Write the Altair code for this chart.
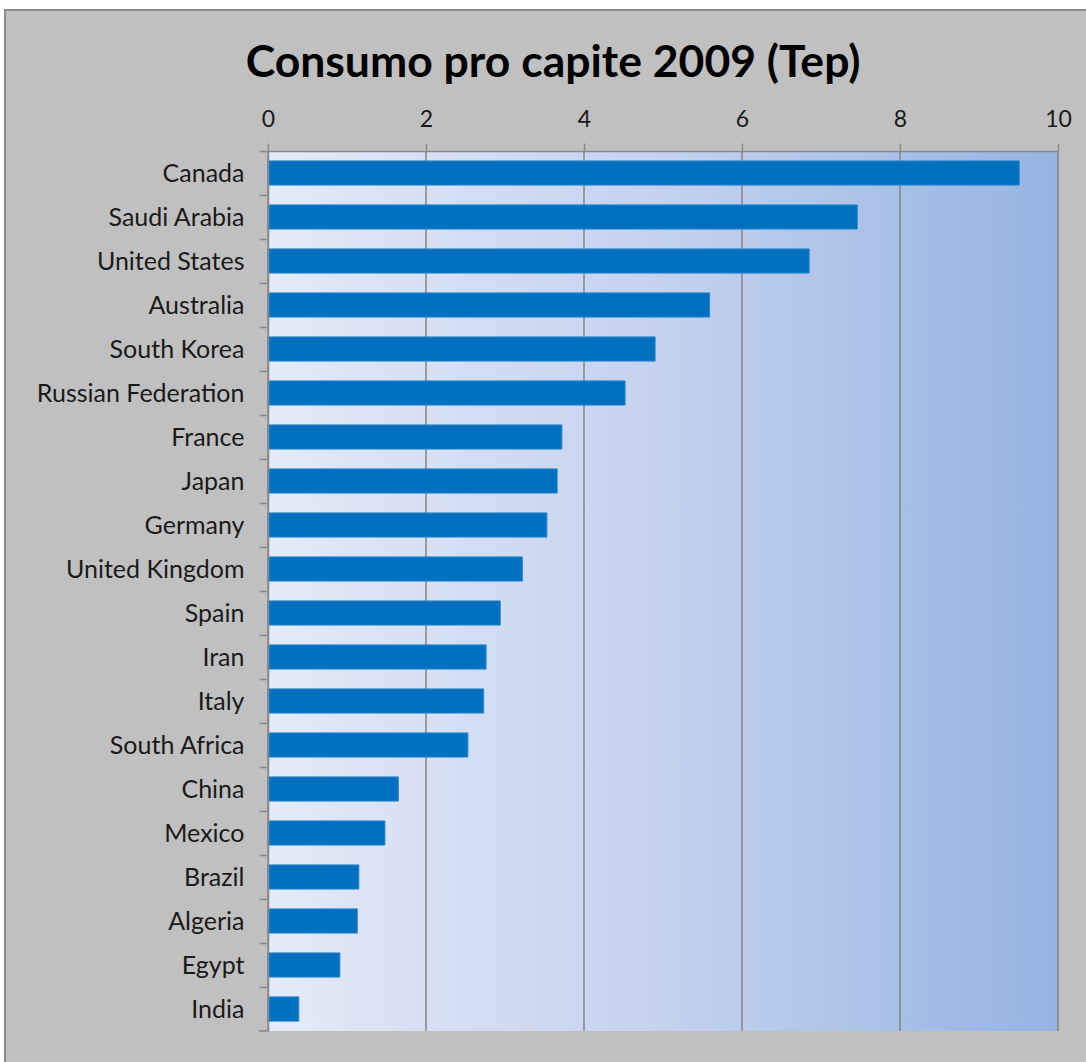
import altair as alt
import pandas as pd

title_text = "Consumo pro capite 2009 (Tep)"
countries = ["Canada", "Saudi Arabia", "United States", "Australia", "South Korea",
             "Russian Federation", "France", "Japan", "Germany", "United Kingdom",
             "Spain", "Iran", "Italy", "South Africa", "China", "Mexico", "Brazil",
             "Algeria", "Egypt", "India"]
values = [9.51, 7.46, 6.85, 5.59, 4.90, 4.52, 3.72, 3.66, 3.53, 3.22,
          2.94, 2.76, 2.73, 2.53, 1.65, 1.48, 1.15, 1.13, 0.91, 0.39]
ticks = [0, 2, 4, 6, 8, 10]

W, H = 790, 880
STEP = H / len(countries)
FONT = "Lato"

df = pd.DataFrame({"country": countries, "value": values})
tick_df = pd.DataFrame({"t": ticks})
title_df = pd.DataFrame({"label": [title_text]})

x_scale = alt.Scale(domain=[0, 10], nice=False, zero=True)

frame = alt.Chart(title_df).mark_rect(
    fill="#c0c0c0", stroke="#8a8a8a", strokeWidth=2
).encode(
    x=alt.value(-263), x2=alt.value(W + 40),
    y=alt.value(-141), y2=alt.value(H + 40)
)

grad = alt.Chart(title_df).mark_rect(
    color=alt.LinearGradient(
        gradient="linear", x1=0, x2=1, y1=0, y2=0,
        stops=[alt.GradientStop(color="#e4eaf7", offset=0),
               alt.GradientStop(color="#c4d2ee", offset=0.5),
               alt.GradientStop(color="#96b3e2", offset=1)]
    )
).encode(
    x=alt.value(0), x2=alt.value(W), y=alt.value(0), y2=alt.value(H)
)

grid = alt.Chart(tick_df).mark_rule(color="#868686", strokeWidth=1.5).encode(
    x=alt.X("t:Q", scale=x_scale),
    y=alt.value(0), y2=alt.value(H)
)

bottom_tick = alt.Chart(title_df).mark_rule(color="#8a8a8a", strokeWidth=1.5).encode(
    x=alt.value(-9), x2=alt.value(0), y=alt.value(H)
)

bars = alt.Chart(df).mark_bar(color="#0070c0", stroke="#2a86cc", strokeWidth=1).encode(
    x=alt.X("value:Q", scale=x_scale,
            axis=alt.Axis(orient="top", values=ticks, title=None, grid=False, format="d",
                          domainColor="#8a8a8a", domainWidth=1.5,
                          tickColor="#8a8a8a", tickSize=8, tickWidth=1.5,
                          labelFont=FONT, labelFontSize=23, labelColor="#1a1a1a",
                          labelPadding=12, zindex=1, labelFlush=False)),
    y=alt.Y("country:N", sort=countries,
            scale=alt.Scale(paddingInner=0.45, paddingOuter=0.225),
            axis=alt.Axis(title=None, domainColor="#8a8a8a", domainWidth=1.5,
                          tickColor="#8a8a8a", tickSize=9, tickWidth=1.5,
                          tickOffset=-STEP / 2, labelOffset=STEP / 2,
                          labelFont=FONT, labelFontSize=25, labelColor="#1a1a1a",
                          labelPadding=15, zindex=1, labelLimit=400))
)

title = alt.Chart(title_df).mark_text(
    font=FONT, fontSize=44.5, fontWeight="bold", color="#000000",
    align="center", baseline="alphabetic"
).encode(
    text="label:N", x=alt.value(285), y=alt.value(-74)
)

chart = alt.layer(frame, grad, grid, bars, bottom_tick, title).properties(
    width=W, height=H,
    padding={"left": 268, "top": 151, "right": 28, "bottom": 31},
    autosize=alt.AutoSizeParams(type="none"),
    background="#ffffff"
).configure_view(stroke=None)

chart.save("out.html", embed_options={"renderer": "svg", "actions": False})
